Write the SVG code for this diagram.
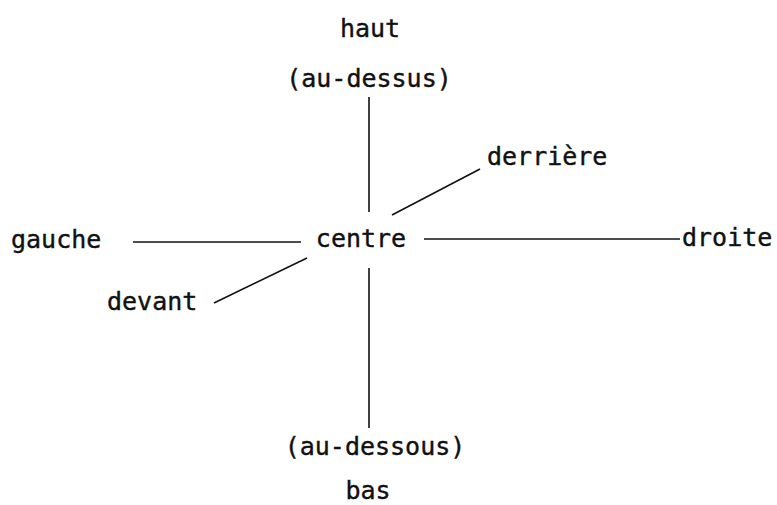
<svg xmlns="http://www.w3.org/2000/svg" width="777" height="505" viewBox="0 0 777 505">
<style>
text{font-family:"DejaVu Sans Mono","Liberation Mono",monospace;font-size:25px;fill:#111;stroke:#111;stroke-width:0.4}
.c{text-anchor:middle}
line{stroke:#111;stroke-width:1.6;fill:none}
</style>
<rect width="777" height="505" fill="#fff"/>
<g id="connectors">
<line x1="369" y1="97" x2="369" y2="212"/>
<line x1="369" y1="268" x2="369" y2="428"/>
<line x1="133" y1="242" x2="301" y2="242"/>
<line x1="424" y1="239" x2="680" y2="239"/>
<line x1="392" y1="215" x2="480" y2="169"/>
<line x1="307" y1="258" x2="214" y2="303"/>
</g>
<g id="haut"><text class="c" x="370" y="37">haut</text><text class="c" x="369" y="87">(au-dessus)</text></g>
<g id="centre"><text class="c" x="361" y="247">centre</text></g>
<g id="gauche"><text x="11" y="248">gauche</text></g>
<g id="droite"><text x="682" y="246">droite</text></g>
<g id="derriere"><text x="487" y="165">derrière</text></g>
<g id="devant"><text x="107" y="310">devant</text></g>
<g id="bas"><text class="c" x="375" y="455">(au-dessous)</text><text class="c" x="368" y="499">bas</text></g>
</svg>
